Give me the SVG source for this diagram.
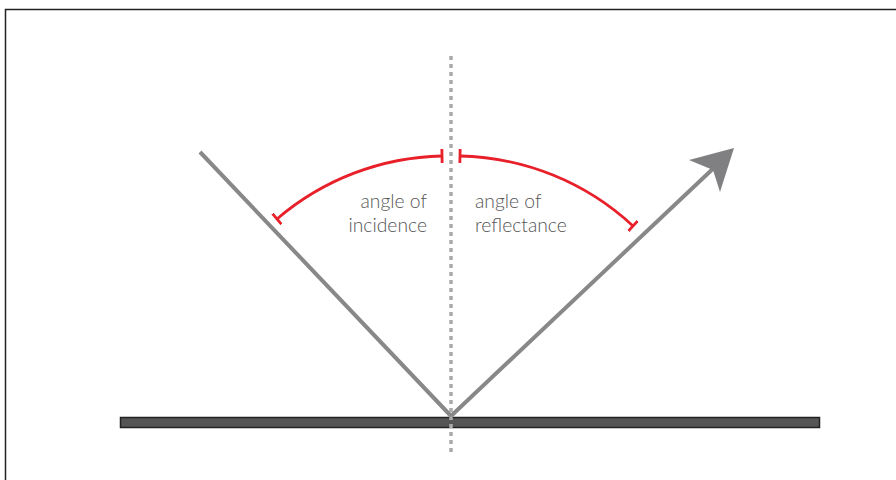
<svg xmlns="http://www.w3.org/2000/svg" width="896" height="480" viewBox="0 0 896 480">
<style>
.lbl{font-family:Lato,"Open Sans",sans-serif;font-size:19.3px;fill:#555;font-weight:300}
.ray{stroke:#888;stroke-width:4;fill:none}
.arc{stroke:#e8202a;stroke-width:2.8;fill:none}
</style>
<defs>
<marker id="bar" markerWidth="4" markerHeight="14" refX="0" refY="7" orient="auto" markerUnits="userSpaceOnUse" viewBox="-2 0 4 14">
<line x1="0" y1="0" x2="0" y2="14" stroke="#e8202a" stroke-width="2.8"/>
</marker>
</defs>
<rect x="5.5" y="9.5" width="1000" height="1000" fill="#fff" stroke="#222" stroke-width="1.5"/>
<g id="ground">
<rect x="120.5" y="417.5" width="699" height="10" fill="#555" stroke="#222" stroke-width="1.5"/>
</g>
<g id="normal">
<line x1="451" y1="56" x2="451" y2="452" stroke="#aaa" stroke-width="3.5" stroke-dasharray="4,4"/>
</g>
<g id="connectors">
<line class="ray" x1="200" y1="152" x2="451" y2="416"/>
<line class="ray" x1="451" y1="416" x2="718" y2="164"/>
<polygon points="734,148 689,160 713,170 720,192" fill="#808083"/>
<path class="arc" d="M 277 219 A 262 262 0 0 1 442 156" marker-start="url(#bar)" marker-end="url(#bar)"/>
<path class="arc" d="M 460 156 A 262 262 0 0 1 633 226" marker-start="url(#bar)" marker-end="url(#bar)"/>
</g>
<g id="label-incidence">
<text class="lbl" x="427" y="208" text-anchor="end">angle of</text>
<text class="lbl" x="427" y="232" text-anchor="end">incidence</text>
</g>
<g id="label-reflectance">
<text class="lbl" x="475" y="208">angle of</text>
<text class="lbl" x="475" y="232">reflectance</text>
</g>
</svg>
